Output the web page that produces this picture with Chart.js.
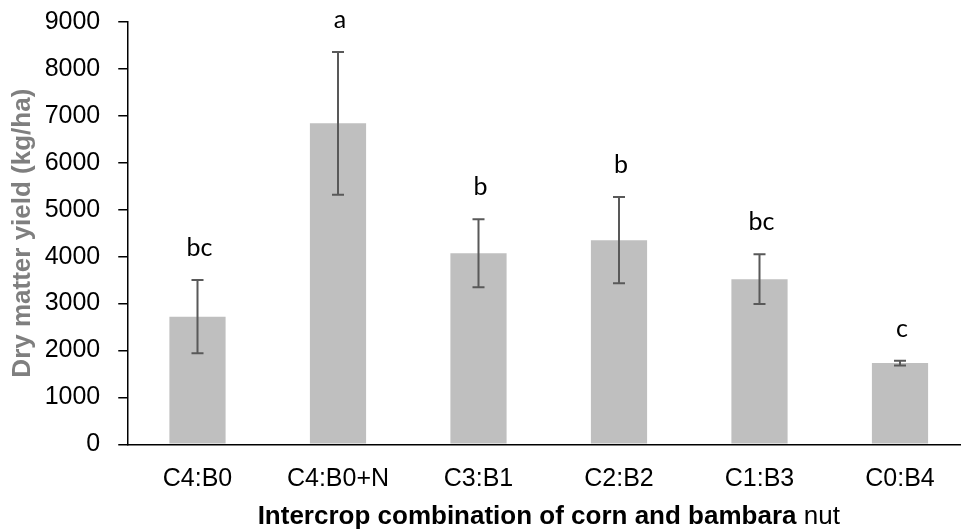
<!doctype html>
<html lang="en">
  <head>
    <meta charset="utf-8" />
    <title>Dry matter yield</title>
    <script src="https://cdn.jsdelivr.net/npm/chart.js/dist/chart.umd.min.js"></script>
    <style>
      html,
      body {
        margin: 0;
        padding: 0;
        background: #fff;
        overflow: hidden;
      }
      /* plot runs a little past the right edge, like the original */
      .chartBox {
        width: 975px;
        height: 531px;
      }
    </style>
  </head>
  <body>
    <div class="chartBox">
      <canvas id="myChart"></canvas>
    </div>
    <script>
      const categories = ["C4:B0", "C4:B0+N", "C3:B1", "C2:B2", "C1:B3", "C0:B4"];
      const yieldMeans = [2720, 6840, 4070, 4350, 3520, 1730];
      const yieldErrors = [780, 1520, 725, 920, 530, 50];
      const letters = ["bc", "a", "b", "b", "bc", "c"];
      const yTicks = [0, 1000, 2000, 3000, 4000, 5000, 6000, 7000, 8000, 9000];

      const tickFont = { family: "'Liberation Sans', Arial, sans-serif", size: 25 };

      // error bars + significance letters
      const errorBars = {
        id: "errorBars",
        afterDatasetsDraw(chart) {
          const {
            ctx,
            scales: { x, y },
          } = chart;
          ctx.save();
          ctx.strokeStyle = "#595959";
          ctx.lineWidth = 2;
          yieldMeans.forEach((m, i) => {
            const px = x.getPixelForValue(i);
            const top = y.getPixelForValue(m + yieldErrors[i]);
            const bot = y.getPixelForValue(m - yieldErrors[i]);
            ctx.beginPath();
            ctx.moveTo(px, top);
            ctx.lineTo(px, bot);
            ctx.moveTo(px - 6, top);
            ctx.lineTo(px + 6, top);
            ctx.moveTo(px - 6, bot);
            ctx.lineTo(px + 6, bot);
            ctx.stroke();

            ctx.fillStyle = "#000";
            ctx.font = "25px Lato, 'Open Sans', sans-serif";
            ctx.textAlign = "center";
            ctx.textBaseline = "alphabetic";
            ctx.fillText(letters[i], px + 2, top - 24);
          });
          ctx.restore();
        },
      };

      // x title has a bold part and a plain part
      const xTitle = {
        id: "xTitle",
        afterDraw(chart) {
          const { ctx, chartArea } = chart;
          const boldPart = "Intercrop combination of corn and bambara ";
          const plainPart = "nut";
          ctx.save();
          ctx.font = "bold 26px 'Liberation Sans', Arial, sans-serif";
          const w1 = ctx.measureText(boldPart).width;
          ctx.font = "26px 'Liberation Sans', Arial, sans-serif";
          const w2 = ctx.measureText(plainPart).width;
          const cx = (chartArea.left + chartArea.right) / 2;
          const start = cx - (w1 + w2) / 2;
          ctx.fillStyle = "#000";
          ctx.textAlign = "left";
          ctx.textBaseline = "alphabetic";
          ctx.font = "bold 26px 'Liberation Sans', Arial, sans-serif";
          ctx.fillText(boldPart, start, 524);
          ctx.font = "26px 'Liberation Sans', Arial, sans-serif";
          ctx.fillText(plainPart, start + w1, 524);
          ctx.restore();
        },
      };

      const config = {
        type: "bar",
        data: {
          labels: categories,
          datasets: [
            {
              data: yieldMeans,
              backgroundColor: "#bfbfbf",
              borderWidth: 0,
              categoryPercentage: 1,
              barPercentage: 0.4,
            },
          ],
        },
        options: {
          responsive: true,
          maintainAspectRatio: false,
          animation: false,
          layout: { padding: { top: 22, right: 4.75, left: 0, bottom: 0 } },
          scales: {
            x: {
              grid: { display: false },
              border: { display: true, color: "#000", width: 1.5 },
              ticks: { color: "#000", font: tickFont, padding: 12, maxRotation: 0 },
              afterFit(scale) {
                scale.height = 86.7;
              },
            },
            y: {
              min: 0,
              max: 9000,
              afterBuildTicks(scale) {
                scale.ticks = yTicks.map((v) => ({ value: v }));
              },
              grid: {
                display: true,
                drawOnChartArea: false,
                drawTicks: true,
                tickLength: 9,
                color: "#000",
                lineWidth: 1.5,
              },
              border: { display: true, color: "#000", width: 1.5 },
              ticks: {
                color: "#000",
                font: tickFont,
                padding: 18,
                callback: (v) => String(v),
              },
              title: {
                display: true,
                text: "Dry matter yield (kg/ha)",
                color: "#7f7f7f",
                font: {
                  family: "'Liberation Sans', Arial, sans-serif",
                  size: 26,
                  weight: "bold",
                  lineHeight: 1,
                },
                padding: { top: 9.5, bottom: 0 },
              },
              afterFit(scale) {
                scale.width = 127.25;
                // let layout.padding decide where the plot starts
                scale.paddingTop = 0;
                scale.paddingBottom = 0;
              },
            },
          },
          plugins: {
            legend: { display: false },
            tooltip: { enabled: false },
          },
        },
        plugins: [errorBars, xTitle],
      };

      const myChart = new Chart(document.getElementById("myChart"), config);
    </script>
  </body>
</html>
